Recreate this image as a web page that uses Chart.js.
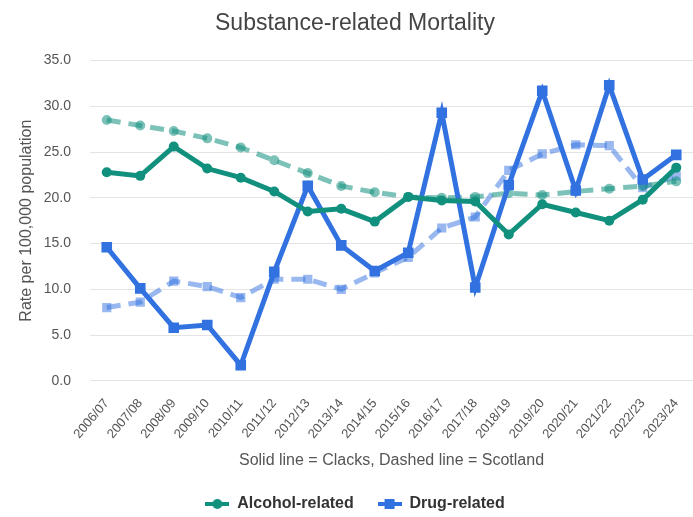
<!DOCTYPE html>
<html lang="en">
<head>
    <meta charset="UTF-8">
    <title>Substance-related Mortality</title>
    <script src="https://cdn.jsdelivr.net/npm/chart.js@4.4.1/dist/chart.umd.min.js"></script>
    <style>
        body {
            margin: 0;
            padding: 0;
            background: #fff;
        }
        .chart-box {
            width: 693px;
            height: 517px;
        }
    </style>
</head>
<body>
    <div class="chart-box">
        <canvas id="mortalityChart"></canvas>
    </div>
    <script>
        // Financial years on the x axis
        const years = ['2006/07', '2007/08', '2008/09', '2009/10', '2010/11', '2011/12', '2012/13', '2013/14', '2014/15',
            '2015/16', '2016/17', '2017/18', '2018/19', '2019/20', '2020/21', '2021/22', '2022/23', '2023/24'];

        // Clacks (solid lines)
        const alcoholClacks = [22.8, 22.4, 25.6, 23.2, 22.2, 20.7, 18.5, 18.8, 17.4, 20.1, 19.7, 19.6, 16.0, 19.3, 18.4, 17.5, 19.8, 23.3];
        const drugClacks = [14.6, 10.1, 5.8, 6.1, 1.7, 11.9, 21.3, 14.8, 12.0, 14.0, 29.3, 10.2, 21.4, 31.7, 20.8, 32.3, 22.0, 24.7];

        // Scotland (dashed lines)
        const alcoholScotland = [28.5, 27.9, 27.3, 26.5, 25.5, 24.1, 22.7, 21.3, 20.6, 20.1, 20.0, 20.1, 20.5, 20.3, 20.7, 21.0, 21.3, 21.8];
        const drugScotland = [8.0, 8.6, 10.9, 10.3, 9.1, 11.1, 11.1, 10.0, 11.8, 13.5, 16.7, 17.9, 23.0, 24.8, 25.8, 25.7, 21.1, 22.4];

        const yTicks = [0, 5, 10, 15, 20, 25, 30, 35];

        const teal = '#12907e';
        const blue = '#3171e0';
        const tealLight = 'rgba(18, 144, 126, 0.55)';
        const blueLight = 'rgba(49, 113, 224, 0.5)';
        const font = 'Arial, "Liberation Sans", sans-serif';

        // little line + marker icons for the legend
        function legendIcon(color, square) {
            const c = document.createElement('canvas');
            c.width = 24;
            c.height = 12;
            const g = c.getContext('2d');
            g.fillStyle = color;
            g.fillRect(0, 4, 24, 4);
            if (square) {
                g.fillRect(7, 1, 10, 10);
            } else {
                g.beginPath();
                g.arc(12, 6, 5, 0, Math.PI * 2);
                g.fill();
            }
            return c;
        }
        const icons = [legendIcon(teal, false), legendIcon(blue, true)];

        const ctx = document.getElementById('mortalityChart').getContext('2d');
        const chart = new Chart(ctx, {
            type: 'line',
            data: {
                labels: years,
                datasets: [{
                    label: 'Alcohol-related',
                    data: alcoholClacks,
                    borderColor: teal,
                    backgroundColor: teal,
                    borderWidth: 5,
                    pointStyle: 'circle',
                    pointRadius: 5,
                    pointBorderWidth: 0
                }, {
                    label: 'Drug-related',
                    data: drugClacks,
                    borderColor: blue,
                    backgroundColor: blue,
                    borderWidth: 5,
                    pointStyle: 'rect',
                    pointRadius: 7.5,
                    pointBorderWidth: 0
                }, {
                    label: 'Alcohol-related (Scotland)',
                    data: alcoholScotland,
                    borderColor: tealLight,
                    backgroundColor: tealLight,
                    borderWidth: 5,
                    borderDash: [14, 8],
                    pointStyle: 'circle',
                    pointRadius: 5,
                    pointBorderWidth: 0
                }, {
                    label: 'Drug-related (Scotland)',
                    data: drugScotland,
                    borderColor: blueLight,
                    backgroundColor: blueLight,
                    borderWidth: 5,
                    borderDash: [14, 8],
                    pointStyle: 'rect',
                    pointRadius: 6.5,
                    pointBorderWidth: 0
                }]
            },
            options: {
                responsive: true,
                maintainAspectRatio: false,
                animation: false,
                layout: {
                    autoPadding: false,
                    padding: { left: 17, right: 0, top: 0, bottom: -5 }
                },
                elements: {
                    line: { tension: 0 }
                },
                plugins: {
                    title: {
                        display: true,
                        text: 'Substance-related Mortality',
                        color: '#444',
                        font: { family: font, size: 23, weight: 'normal' },
                        padding: { top: 10, bottom: 23 }
                    },
                    legend: {
                        position: 'bottom',
                        labels: {
                            usePointStyle: true,
                            pointStyleWidth: 24,
                            padding: 6,
                            color: '#333',
                            font: { family: font, size: 16, weight: 'bold' },
                            filter: (item) => item.datasetIndex < 2,
                            // trailing spaces widen the gap between the two entries
                            generateLabels: (c) => c.data.datasets.map((ds, i) => ({
                                text: i === 0 ? ds.label + '    ' : ds.label,
                                datasetIndex: i,
                                pointStyle: icons[i] || 'circle',
                                fillStyle: ds.borderColor,
                                strokeStyle: ds.borderColor,
                                lineWidth: 0,
                                fontColor: '#333'
                            }))
                        }
                    },
                    tooltip: { enabled: false }
                },
                scales: {
                    x: {
                        offset: true,
                        grid: { display: false },
                        border: { display: false },
                        afterFit: (scale) => {
                            scale.paddingLeft = 0;
                            scale.paddingRight = 0;
                        },
                        ticks: {
                            minRotation: 50,
                            maxRotation: 50,
                            autoSkip: false,
                            padding: 7,
                            color: '#555',
                            font: { family: font, size: 13 }
                        },
                        title: {
                            display: true,
                            text: 'Solid line = Clacks, Dashed line = Scotland',
                            color: '#555',
                            font: { family: font, size: 16 },
                            padding: { top: 2, bottom: 20 }
                        }
                    },
                    y: {
                        min: yTicks[0],
                        max: yTicks[yTicks.length - 1],
                        grid: { color: '#e4e4e4', drawTicks: false },
                        border: { display: false },
                        afterBuildTicks: (scale) => {
                            scale.ticks = yTicks.map(v => ({ value: v }));
                        },
                        afterFit: (scale) => {
                            scale.width = 73;
                        },
                        ticks: {
                            padding: 19,
                            color: '#555',
                            font: { family: font, size: 14 },
                            callback: (v) => Number(v).toFixed(1)
                        },
                        title: {
                            display: true,
                            text: 'Rate per 100,000 population',
                            color: '#555',
                            font: { family: font, size: 16 },
                            padding: { top: 0, bottom: 10 }
                        }
                    }
                }
            }
        });
    </script>
</body>
</html>
